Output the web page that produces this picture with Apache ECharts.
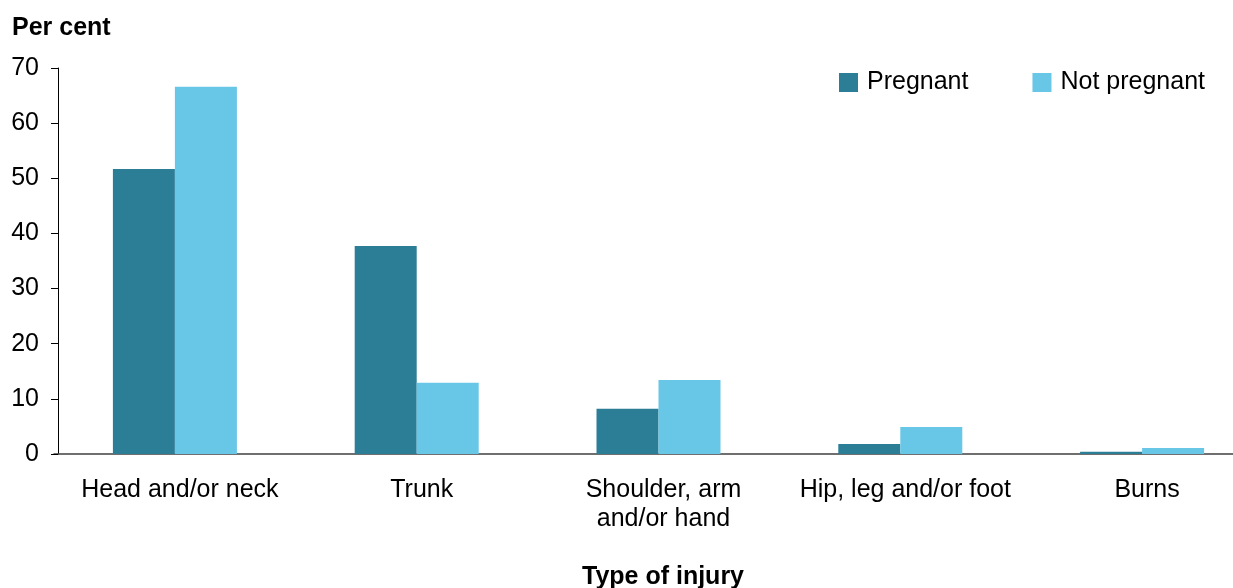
<!DOCTYPE html>
<html>
<head>
<meta charset="utf-8">
<script src="https://cdn.jsdelivr.net/npm/echarts@6/dist/echarts.min.js"></script>
<style>html,body{margin:0;padding:0;background:#fff;overflow:hidden}#c{width:1290px;height:588px}</style>
</head>
<body>
<div id="c"></div>
<script>
var categories = ['Head and/or neck', 'Trunk', 'Shoulder, arm\nand/or hand', 'Hip, leg and/or foot', 'Burns'];
var pregnant = [51.7, 37.7, 8.2, 1.8, 0.4];
var notPregnant = [66.6, 12.9, 13.4, 4.9, 1.1];
var seriesNames = ['Pregnant', 'Not pregnant'];
var yTicks = [0, 10, 20, 30, 40, 50, 60, 70];

var font = 'Liberation Sans, Arial, sans-serif';
var chart = echarts.init(document.getElementById('c'), null, {renderer: 'canvas'});
chart.setOption({
  animation: false,
  textStyle: {fontFamily: font},
  title: [
    {text: 'Per cent', left: 7, top: 11, textStyle: {fontFamily: font, fontWeight: 'bold', fontSize: 25, color: '#000'}},
    {text: 'Type of injury', left: 658, top: 560, textAlign: 'center', textStyle: {fontFamily: font, fontWeight: 'bold', fontSize: 25, color: '#000'}}
  ],
  legend: {
    left: 839, top: 70, padding: 0,
    itemWidth: 19, itemHeight: 19, itemGap: 64,
    icon: 'rect',
    textStyle: {fontFamily: font, fontSize: 25, color: '#000', padding: [0, 0, 0, 4]},
    data: seriesNames
  },
  grid: {left: 54, top: 68, width: 1209, bottom: 134, containLabel: false},
  xAxis: {
    type: 'category',
    data: categories,
    axisLine: {lineStyle: {color: '#404040', width: 1.5}},
    axisTick: {show: false},
    axisLabel: {interval: 0, fontFamily: font, fontSize: 25, color: '#000', margin: 22, lineHeight: 29, padding: [0, 0, 0, 10]}
  },
  yAxis: {
    type: 'value', min: 0, max: 70, interval: 10, offset: -4,
    axisLine: {show: true, lineStyle: {color: '#000', width: 1}},
    axisTick: {show: true, length: 7, lineStyle: {color: '#000'}},
    splitLine: {show: false},
    axisLabel: {fontFamily: font, fontSize: 25, color: '#000', margin: 19,
      formatter: function (v) { return yTicks.indexOf(v) >= 0 ? String(v) : ''; }}
  },
  series: [
    {name: seriesNames[0], type: 'bar', data: pregnant, barWidth: 62, barGap: '0%', itemStyle: {color: '#2C7D96'}},
    {name: seriesNames[1], type: 'bar', data: notPregnant, barWidth: 62, barGap: '0%', itemStyle: {color: '#68C6E6'}}
  ]
});
</script>
</body>
</html>
